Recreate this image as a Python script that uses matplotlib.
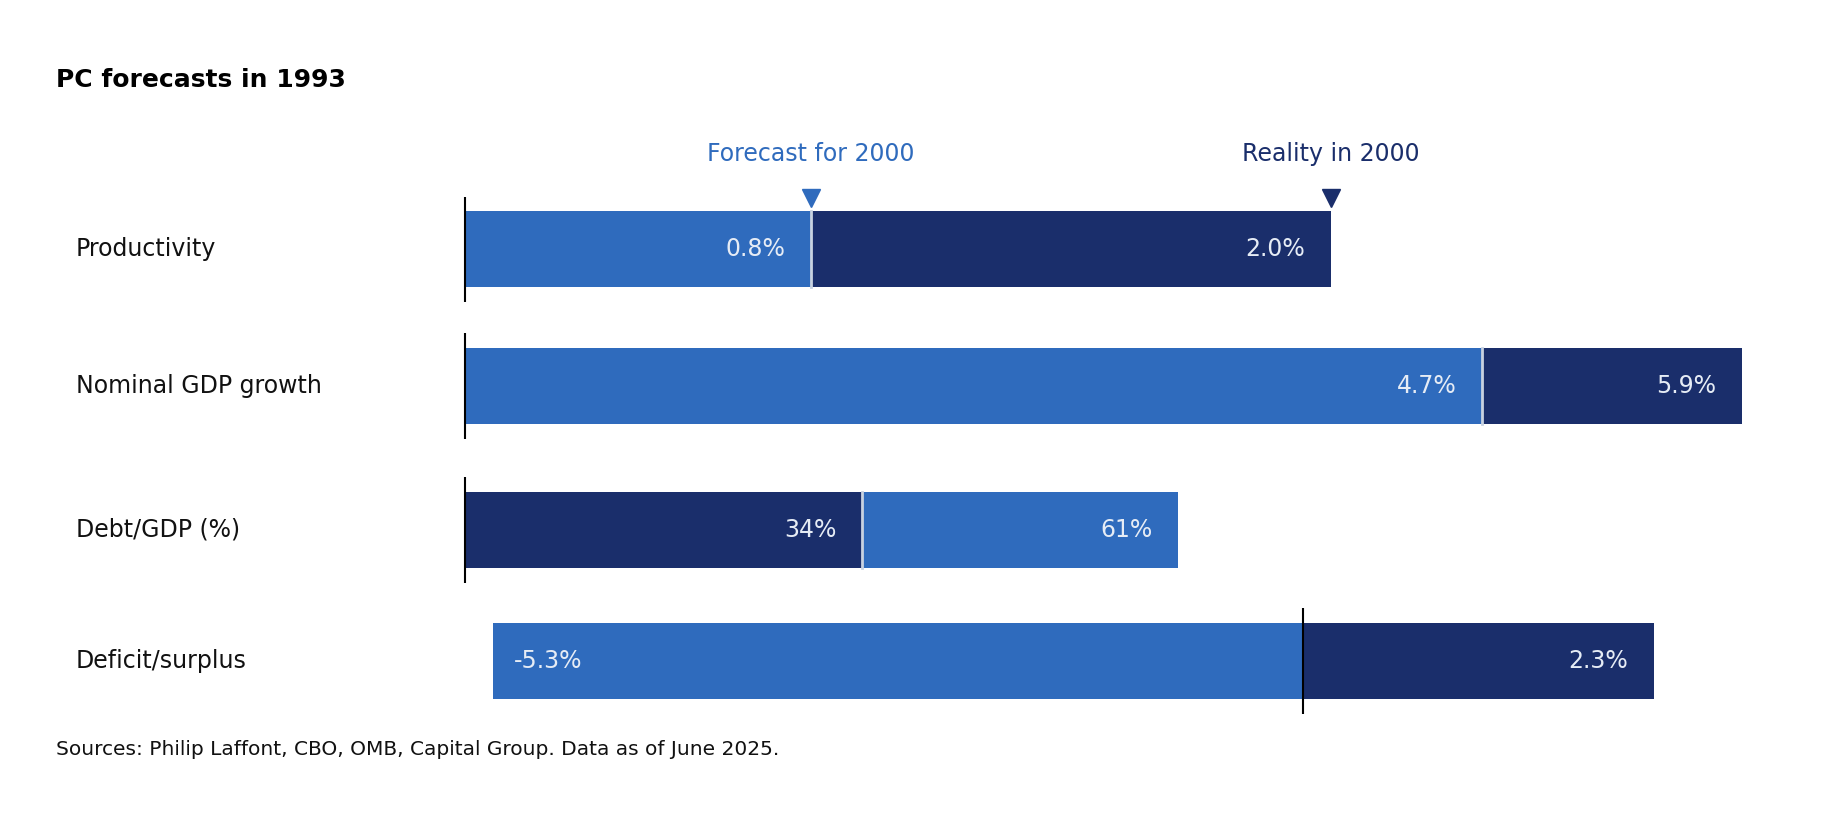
import matplotlib
matplotlib.use("Agg")
import matplotlib.pyplot as plt

categories = ["Productivity", "Nominal GDP growth", "Debt/GDP (%)", "Deficit/surplus"]
forecast = [0.8, 4.7, 61, -5.3]
reality = [2.0, 5.9, 34, 2.3]
fmt = ["{:.1f}%", "{:.1f}%", "{:.0f}%", "{:.1f}%"]

LIGHT = "#2f6bbd"
DARK = "#1a2e6b"
W, H = 1568, 707  # layout reference units
fig = plt.figure(figsize=(18.35, 8.27), dpi=100)

# per-row layout: zero pixel, px per unit, centre y
zero_px = [397, 397, 397, 1113]
px_per = [370, 185, 10.0, 130.5]
centres = [213, 330, 453, 565]
axL, axR = 345, 1537
fs = 17

for i, cat in enumerate(categories):
    cy = centres[i]
    ax = fig.add_axes([axL / W, 1 - (cy + 45) / H, (axR - axL) / W, 90 / H])
    z, s = zero_px[i], px_per[i]
    ax.set_xlim((axL - z) / s, (axR - z) / s)
    ax.set_ylim(-1, 1)
    ax.axis("off")
    f, r = forecast[i], reality[i]
    # draw longer bar behind
    bars = sorted([(f, LIGHT), (r, DARK)], key=lambda t: -abs(t[0]))
    for v, c in bars:
        ax.barh(0, v, height=1.45, color=c, left=0)
    if f * r > 0:
        small = min(abs(f), abs(r))
        ax.plot([small, small], [-0.725, 0.725], color="#c8d2e0", lw=2)
    ax.plot([0, 0], [-1, 1], color="black", lw=1.5, zorder=5)
    unit = 1 / s
    for v, c in [(f, LIGHT), (r, DARK)]:
        txt = fmt[i].format(v)
        if v >= 0:
            ax.text(v - 22 * unit, 0, txt, ha="right", va="center", color="#e6ecf5", fontsize=fs)
        else:
            ax.text(v + 18 * unit, 0, txt, ha="left", va="center", color="#e6ecf5", fontsize=fs)
    fig.text(65 / W, 1 - cy / H, cat, ha="left", va="center", fontsize=fs, color="#111111")
    if i == 0:
        ax.plot([f], [0.98], marker="v", color=LIGHT, markersize=13, clip_on=False)
        ax.plot([r], [0.98], marker="v", color=DARK, markersize=13, clip_on=False)
        ax.text(f, 1.8, "Forecast for 2000", ha="center", va="center", color=LIGHT, fontsize=fs, clip_on=False)
        ax.text(r, 1.8, "Reality in 2000", ha="center", va="center", color=DARK, fontsize=fs, clip_on=False)

fig.text(48 / W, 1 - 68 / H, "PC forecasts in 1993", ha="left", va="center", fontsize=18, fontweight="bold")
fig.text(48 / W, 1 - 641 / H, "Sources: Philip Laffont, CBO, OMB, Capital Group. Data as of June 2025.",
         ha="left", va="center", fontsize=14.5, color="#111111")
fig.savefig("out.png", dpi=100)
